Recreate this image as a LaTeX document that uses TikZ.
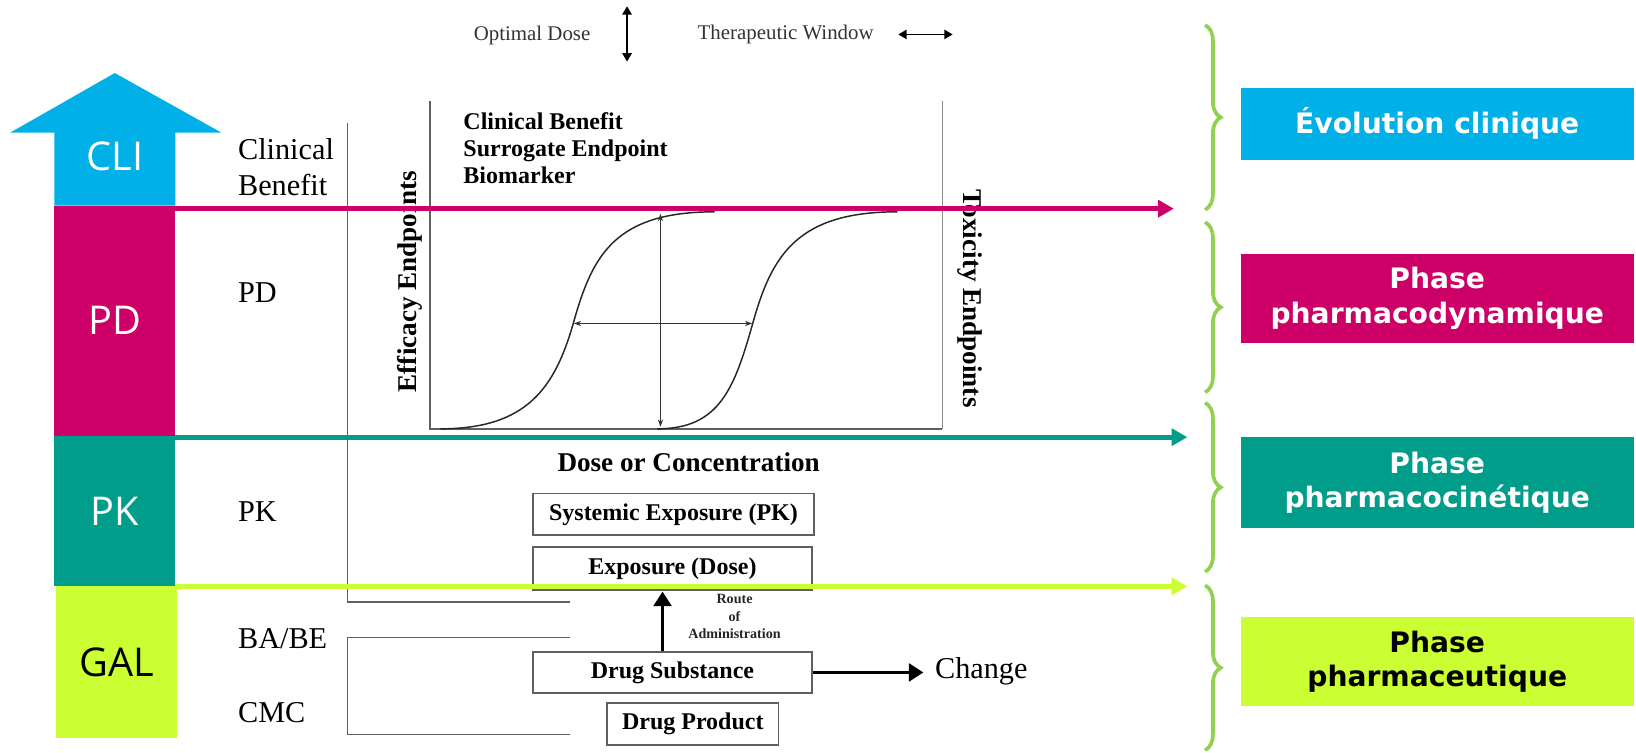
\documentclass[tikz,border=0pt]{standalone}
\usepackage{fontspec}
\setmainfont{Liberation Serif}
\newfontfamily\boxfont{DejaVu Sans}
\newfontfamily\lblfont{Open Sans}
\usetikzlibrary{arrows.meta,decorations.pathreplacing,calc}
\definecolor{cblue}{RGB}{0,176,230}
\definecolor{cmag}{RGB}{204,0,102}
\definecolor{cteal}{RGB}{0,158,138}
\definecolor{clime}{RGB}{204,255,51}
\definecolor{cgreen}{RGB}{146,208,80}
\definecolor{lgray}{RGB}{95,95,95}
\begin{document}
\begin{tikzpicture}[x=1pt,y=-1pt,
 colline/.style={line width=4.5pt, -{Triangle[length=15pt,width=16pt]}},
 frameline/.style={draw=lgray, line width=1.4pt},
 gbox/.style={draw=lgray, line width=1.6pt, inner sep=0pt, font=\bfseries\fontsize{23}{26}\selectfont},
 lefttxt/.style={anchor=west, inner sep=0pt, font=\fontsize{29}{34}\selectfont, align=left},
 band/.style={inner sep=0pt, minimum width=116pt, font=\lblfont\fontsize{38}{40}\selectfont},
 rbox/.style={inner sep=0pt, minimum width=377pt, align=center, font=\boxfont\bfseries\fontsize{27}{33}\selectfont},
 brc/.style={draw=cgreen, line width=3.5pt, decorate, decoration={brace, amplitude=15pt}},
 thickarr/.style={line width=3.5pt, -{Triangle[length=14pt,width=17pt]}},
 thinarr/.style={draw=black!80, line width=1pt, {Stealth[length=7pt,width=5pt]}-{Stealth[length=7pt,width=5pt]}},
 toparr/.style={line width=1.6pt, {Triangle[length=8pt,width=9pt]}-{Triangle[length=8pt,width=9pt]}},
 bold23/.style={inner sep=0pt, font=\bfseries\fontsize{23}{26}\selectfont},
]
\fill[white] (0,0) rectangle (1568,721);
\useasboundingbox (0,0) rectangle (1568,721);

% ---- top legend
\node[inner sep=0pt, font=\fontsize{20}{22}\selectfont, text=black!80] (optd) at (510,34) {Optimal Dose};
\coordinate (oda) at (601,6);
\coordinate (odb) at (601,59);
\draw[toparr] (oda) -- (odb);
\node[inner sep=0pt, font=\fontsize{20}{22}\selectfont, text=black!80] (thw) at (753,33) {Therapeutic Window};
\coordinate (twa) at (861,33);
\coordinate (twb) at (913,33);
\draw[toparr] (twa) -- (twb);

% ---- left coloured column
\fill[cblue] (52,197) -- (52,127) -- (10,127) -- (110,70) -- (212,127) -- (168,127) -- (168,197) -- cycle;
\node[band, text=white] (cli) at (110,150) {CLI};
\node[band, fill=cmag, minimum height=221pt, text=white] (pd) at (110,307.5) {PD};
\node[band, fill=cteal, minimum height=144pt, text=white] (pk) at (110,490) {PK};
\node[band, fill=clime, minimum height=145pt, text=black] (gal) at (112,634.5) {GAL};

% ---- left labels
\node[lefttxt] (lcb) at (228,160) {Clinical\\Benefit};
\node[lefttxt] (lpd) at (228,280) {PD};
\node[lefttxt] (lpk) at (228,490) {PK};
\node[lefttxt] (lba) at (228,612) {BA/BE};
\node[lefttxt] (lcmc) at (228,683) {CMC};

% ---- outer frame lines
\draw[frameline] (333,118) -- (333,577) -- (546,577);
\draw[frameline] (546,611) -- (333,611) -- (333,704) -- (546,704);

% ---- graph
\draw[frameline, line width=1.6pt] (412,97) -- (412,411) -- (903,411);
\draw[draw=black!45, line width=1.2pt] (903,97) -- (903,411);
\draw[black!85, line width=1.4pt] (422,411) .. controls (505,411) and (532,372) .. (550,308) .. controls (568,244) and (590,203) .. (685,203);
\draw[black!85, line width=1.4pt] (630,411) .. controls (690,411) and (704,372) .. (722,308) .. controls (740,244) and (765,203) .. (860,203);
\coordinate (va) at (633,205);
\coordinate (vb) at (633,409);
\draw[thinarr] (va) -- (vb);
\coordinate (ha) at (550,310);
\coordinate (hb) at (721,310);
\draw[thinarr] (ha) -- (hb);
\node[bold23, anchor=west, align=left] (gtit) at (444,142) {Clinical Benefit\\Surrogate Endpoint\\Biomarker};
\node[rotate=90, inner sep=0pt, font=\bfseries\fontsize{26}{30}\selectfont] (eff) at (393,270) {Efficacy Endpoints};
\node[rotate=-90, inner sep=0pt, font=\bfseries\fontsize{26}{30}\selectfont] (tox) at (930,286) {Toxicity Endpoints};
\node[inner sep=0pt, font=\bfseries\fontsize{26}{30}\selectfont] (doc) at (660,443) {Dose or Concentration};

% ---- flow boxes
\node[gbox, minimum width=269pt, minimum height=40pt] (sys) at (645.5,493) {Systemic Exposure (PK)};
\node[gbox, minimum width=267pt, minimum height=41pt] (expo) at (644.5,545) {Exposure (Dose)};
\node[gbox, minimum width=267pt, minimum height=39pt] (ds) at (644.5,644.5) {Drug Substance};
\node[gbox, minimum width=164pt, minimum height=40pt] (dp) at (664,694) {Drug Product};
\coordinate (rtip) at (635,567);
\draw[thickarr] (rtip |- ds.north) -- (rtip);
\node[inner sep=0pt, align=center, font=\bfseries\fontsize{13.5}{16.5}\selectfont, text=black!85] (route) at (704,591) {Route\\of\\Administration};
\node[inner sep=0pt, anchor=west, font=\fontsize{29}{32}\selectfont] (chg) at (896,643) {Change};
\draw[thickarr, shorten >=11pt] (ds.east) -- (chg.west |- ds.east);

% ---- coloured level lines
\coordinate (m1) at (1125,200);
\coordinate (t1) at (1138,419);
\coordinate (l1) at (1138,562);
\draw[colline, cmag] (pd.east |- m1) -- (m1);
\draw[colline, cteal] (pk.east |- t1) -- (t1);
\draw[colline, clime] (pk.east |- l1) -- (l1);

% ---- braces
\draw[brc] (1155,24) -- (1155,201);
\draw[brc] (1155,213) -- (1155,376);
\draw[brc] (1155,386) -- (1155,548);
\draw[brc] (1155,561) -- (1155,719);

% ---- right boxes
\node[rbox, fill=cblue, text=white, minimum height=69pt] (evo) at (1377.5,118.5) {Évolution clinique};
\node[rbox, fill=cmag, text=white, minimum height=86pt] (pdb) at (1377.5,286) {Phase\\pharmacodynamique};
\node[rbox, fill=cteal, text=white, minimum height=87pt] (pkb) at (1377.5,462.5) {Phase\\pharmacocinétique};
\node[rbox, fill=clime, text=black, minimum height=86pt] (galb) at (1377.5,634) {Phase\\pharmaceutique};
\end{tikzpicture}
\end{document}
